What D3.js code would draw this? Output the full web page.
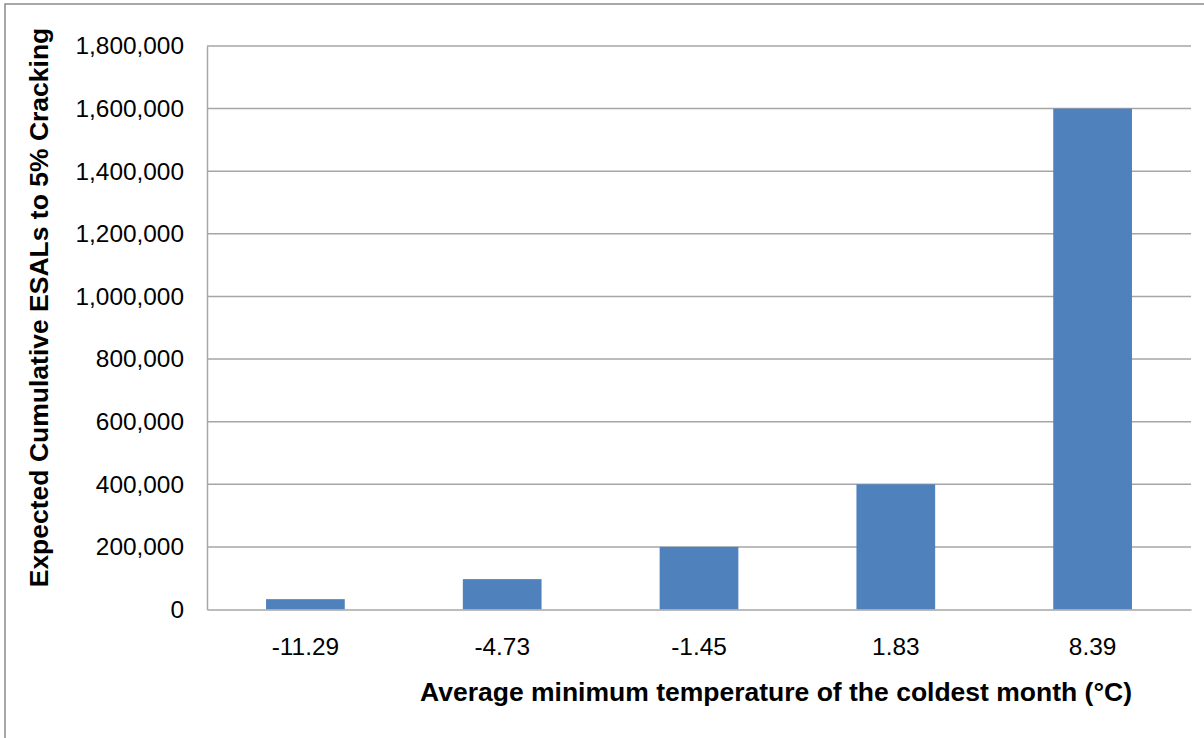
<!DOCTYPE html>
<html><head><meta charset="utf-8">
<script src="https://cdn.jsdelivr.net/npm/d3@7"></script>
<style>body{margin:0;background:#fff}svg{display:block}text{font-family:"Liberation Sans",Arial,sans-serif;fill:#000}</style>
</head><body><svg id="c" width="1204" height="738"></svg>
<script>
const categories = ["-11.29", "-4.73", "-1.45", "1.83", "8.39"];
const values = [33000, 97000, 200000, 400000, 1600000];
const yTicks = [0, 200000, 400000, 600000, 800000, 1000000, 1200000, 1400000, 1600000, 1800000];
const yTitle = "Expected Cumulative ESALs to 5% Cracking";
const xTitle = "Average minimum temperature of the coldest month (°C)";

const svg = d3.select("#c");
const m = {left: 207, right: 1191, top: 46, bottom: 609.5};

svg.append("rect").attr("x", 5).attr("y", 4).attr("width", 1250).attr("height", 800)
  .attr("fill", "#fff").attr("stroke", "#8c8c8c").attr("stroke-width", 1.5);

const x = d3.scaleBand().domain(categories).range([m.left, m.right]).paddingInner(0.6).paddingOuter(0.3);
const y = d3.scaleLinear().domain([0, 1800000]).range([m.bottom, m.top]);
const fmt = d3.format(",");

// gridlines
svg.append("g").selectAll("line").data(yTicks.filter(d => d > 0)).join("line")
  .attr("x1", m.left).attr("x2", m.right).attr("y1", d => y(d)).attr("y2", d => y(d))
  .attr("stroke", "#a6a6a6").attr("stroke-width", 1.5);

// bars
svg.append("g").selectAll("rect").data(values).join("rect")
  .attr("x", (d, i) => x(categories[i])).attr("width", x.bandwidth())
  .attr("y", d => y(d)).attr("height", d => y(0) - y(d)).attr("fill", "#4F81BD");

// axes
const yAxis = d3.axisLeft(y).tickValues(yTicks).tickFormat(fmt).tickSize(0).tickPadding(23);
const gy = svg.append("g").attr("transform", `translate(${m.left},0)`).call(yAxis);
gy.select(".domain").attr("stroke", "#a6a6a6").attr("stroke-width", 1.5);
gy.selectAll("text").attr("font-size", 24.4).attr("font-family", "Liberation Sans, Arial, sans-serif").attr("fill", "#000");

const xAxis = d3.axisBottom(x).tickSize(0).tickPadding(28);
const gx = svg.append("g").attr("transform", `translate(0,${m.bottom})`).call(xAxis);
gx.select(".domain").attr("stroke", "#a6a6a6").attr("stroke-width", 1.5);
gx.selectAll("text").attr("font-size", 24.4).attr("font-family", "Liberation Sans, Arial, sans-serif").attr("fill", "#000");

svg.append("text").attr("x", 776).attr("y", 701).attr("text-anchor", "middle")
  .attr("font-size", 26.5).attr("font-weight", "bold").text(xTitle);
svg.append("text").attr("transform", "translate(48,307.5) rotate(-90)").attr("text-anchor", "middle")
  .attr("font-size", 26.5).attr("font-weight", "bold").text(yTitle);
</script></body></html>
